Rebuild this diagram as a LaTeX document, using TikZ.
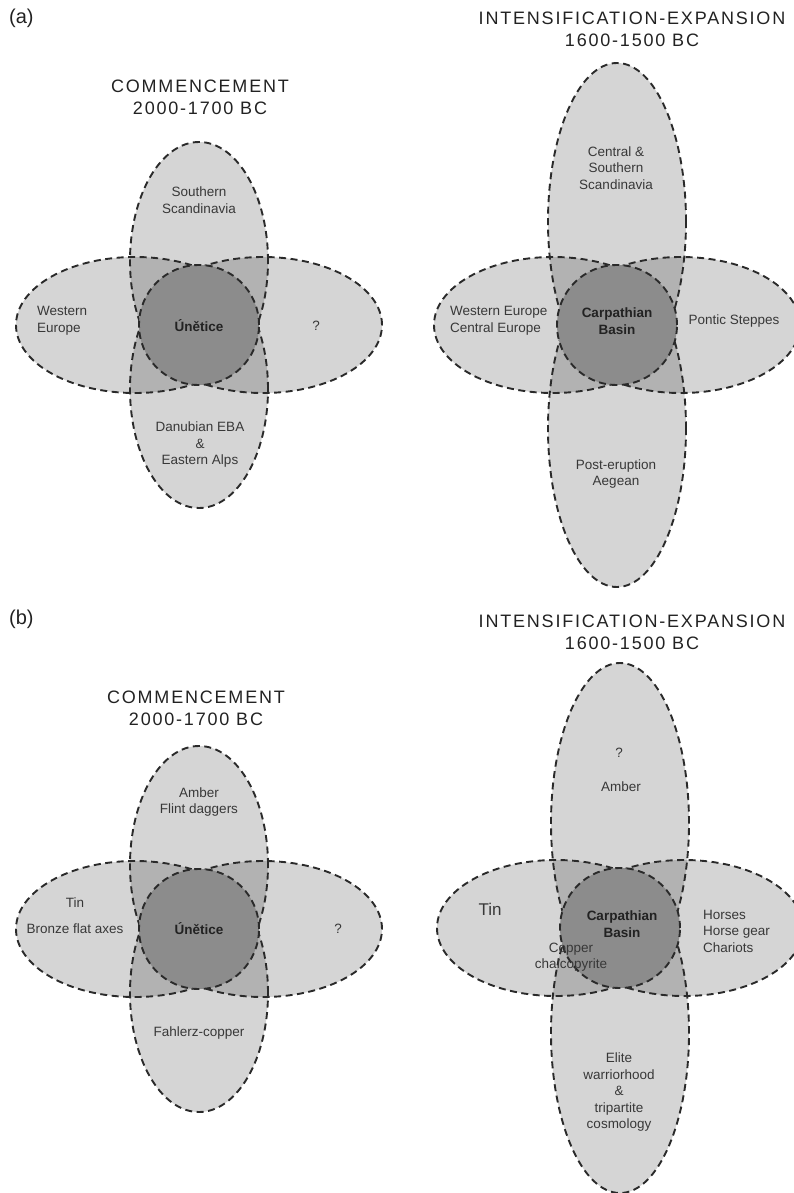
\documentclass[tikz,border=0pt]{standalone}
\usepackage{fontspec}
\setmainfont{Liberation Sans}
\newfontfamily\titlefont[LetterSpace=10]{Liberation Sans}
\definecolor{linegray}{HTML}{2A2A2A}
\definecolor{coregray}{HTML}{8C8C8C}
\definecolor{txtgray}{HTML}{383838}
\definecolor{ttlgray}{HTML}{222222}
\newcommand{\petals}[3]{%
  \begin{scope}[shift={#1}]
    \fill[petal] (0,-#2) ellipse [x radius=69pt, y radius=#3pt];
    \fill[petal] (0,#2) ellipse [x radius=69pt, y radius=#3pt];
    \fill[petal] (-64,0) ellipse [x radius=119pt, y radius=68pt];
    \fill[petal] (64,0) ellipse [x radius=119pt, y radius=68pt];
    \draw[dashline] (0,-#2) ellipse [x radius=69pt, y radius=#3pt];
    \draw[dashline] (0,#2) ellipse [x radius=69pt, y radius=#3pt];
    \draw[dashline] (-64,0) ellipse [x radius=119pt, y radius=68pt];
    \draw[dashline] (64,0) ellipse [x radius=119pt, y radius=68pt];
    \filldraw[core] (0,0) circle [radius=60pt];
  \end{scope}}
\begin{document}
\begin{tikzpicture}[x=1pt,y=-1pt,
  petal/.style={fill=black, fill opacity=0.165},
  dashline/.style={draw=linegray, line width=1.9pt, dash pattern=on 7pt off 4.5pt},
  core/.style={fill=coregray, draw=linegray, line width=1.9pt, dash pattern=on 7pt off 4.5pt},
  lbl/.style={font=\fontsize{13.5}{16.5}\selectfont, text=txtgray, align=center, inner sep=0pt},
  lblb/.style={lbl, font=\fontsize{13.5}{16.5}\selectfont\bfseries, text=ttlgray},
  ttl/.style={font=\titlefont\fontsize{18}{22}\selectfont, text=ttlgray, align=center, inner sep=0pt},
  plabel/.style={font=\fontsize{20}{22}\selectfont, text=ttlgray, inner sep=0pt}]
\useasboundingbox (0,0) rectangle (794,1193);
\clip (0,0) rectangle (794,1193);

% flowers
\petals{(199,325)}{64}{119}
\petals{(617,325)}{103.5}{158.5}
\petals{(199,929)}{64}{119}
\petals{(620,928)}{105}{160}

% panel labels
\node[plabel, anchor=west] (pa) at (9,18) {(a)};
\node[plabel, anchor=west] (pb) at (9,619) {(b)};

% (a) titles
\node[ttl] (t1) at (200,97) {COMMENCEMENT\\2000-1700 BC};
\node[ttl] (t2) at (632,29) {INTENSIFICATION-EXPANSION\\1600-1500 BC};

% (a) left
\node[lbl] (ss) at (199,200) {Southern\\Scandinavia};
\node[lbl, anchor=west, align=left] (we) at (37,321) {Western\\Europe};
\node[lbl] (q1) at (316,326) {?};
\node[lblb] (u1) at (199,326) {Únětice};
\node[lbl] (da) at (200,445) {Danubian EBA\\\&\\Eastern Alps};

% (a) right
\node[lbl] (cs) at (616,168) {Central \&\\Southern\\Scandinavia};
\node[lbl, anchor=west, align=left] (wc) at (450,321) {Western Europe\\Central Europe};
\node[lblb] (cb1) at (617,321) {Carpathian\\Basin};
\node[lbl] (ps) at (734,321) {Pontic Steppes};
\node[lbl] (pe) at (616,474) {Post-eruption\\Aegean};

% (b) titles
\node[ttl] (t3) at (196,708) {COMMENCEMENT\\2000-1700 BC};
\node[ttl] (t4) at (632,632) {INTENSIFICATION-EXPANSION\\1600-1500 BC};

% (b) left
\node[lbl] (am1) at (199,802) {Amber\\Flint daggers};
\node[lbl] (tin1) at (75,903) {Tin};
\node[lbl] (bfa) at (75,929) {Bronze flat axes};
\node[lblb] (u2) at (199,929) {Únětice};
\node[lbl] (q2) at (338,929) {?};
\node[lbl] (fc) at (199,1033) {Fahlerz-copper};

% (b) right
\node[lbl] (q3) at (619,753) {?};
\node[lbl] (am2) at (621,787) {Amber};
\node[lbl, font=\fontsize{17}{19}\selectfont] (tin2) at (490,909) {Tin};
\node[lblb] (cb2) at (622,924) {Carpathian\\Basin};
\node[lbl] (cc) at (571,957) {Copper\\chalcopyrite};
\node[lbl, anchor=west, align=left] (hh) at (703,931) {Horses\\Horse gear\\Chariots};
\node[lbl] (el) at (619,1092) {Elite\\warriorhood\\\&\\tripartite\\cosmology};
\end{tikzpicture}
\end{document}
